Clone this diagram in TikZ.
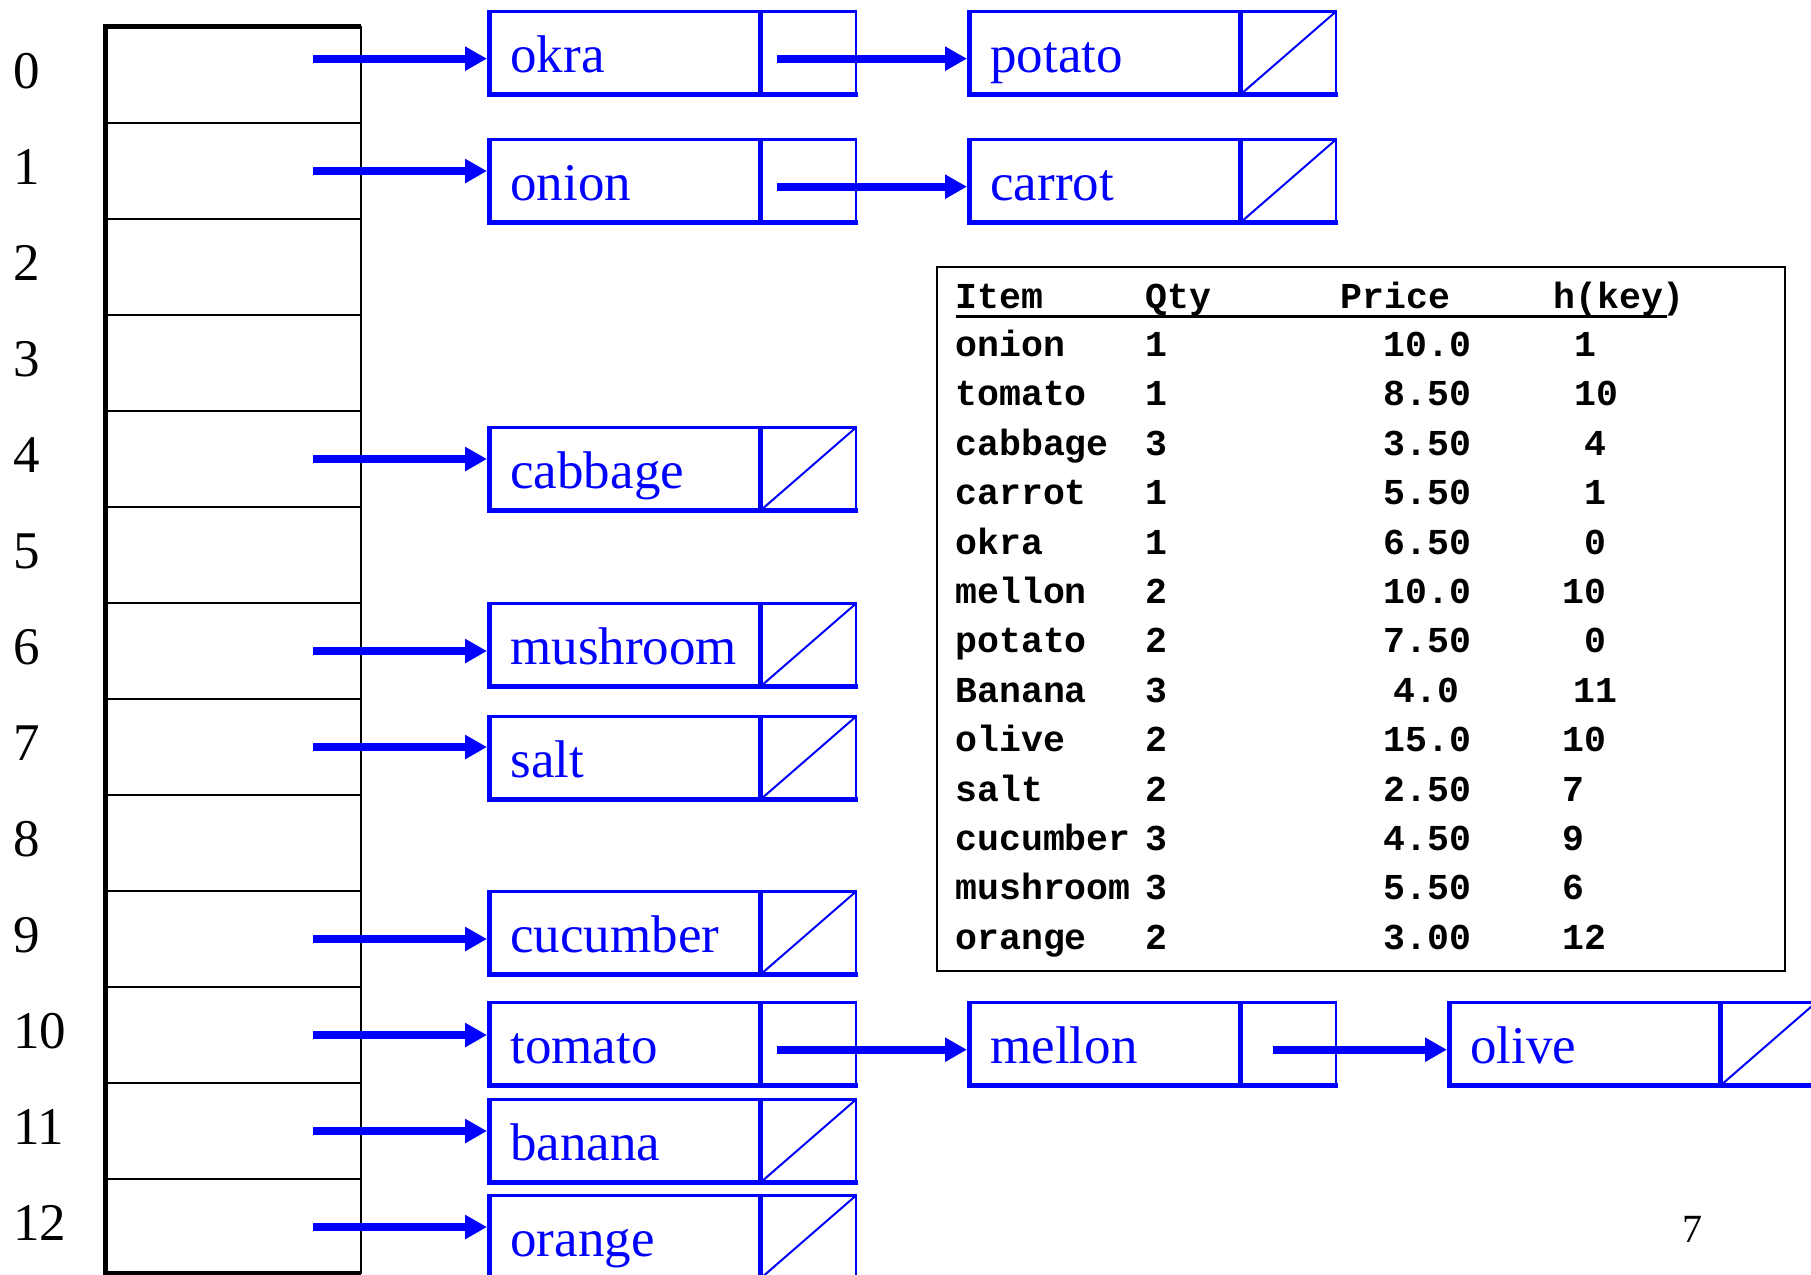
\documentclass[tikz,border=0pt]{standalone}
\usepackage{fontspec}
\setmainfont{Liberation Serif}
\setmonofont{Liberation Mono}
\usetikzlibrary{arrows.meta}
\definecolor{linkblue}{RGB}{0,0,255}

\tikzset{
  cellbox/.style={rectangle, draw=none, inner sep=0pt, outer sep=0pt,
    minimum width=185pt, minimum height=43pt, anchor=north west},
  celltext/.style={anchor=base west, inner sep=0pt, text=linkblue,
    font=\fontsize{26.5}{30}\selectfont},
  cellthin/.style={draw=linkblue, line width=1.25pt},
  cellthick/.style={draw=linkblue, line width=2.5pt},
  nullslash/.style={draw=linkblue, line width=1pt},
  link/.style={draw=linkblue, line width=3.85pt,
    -{Triangle[length=11pt,width=11.5pt]}},
  idx/.style={anchor=base west, inner sep=0pt,
    font=\fontsize{26.5}{30}\selectfont},
  tab/.style={anchor=base west, inner sep=0pt,
    font=\fontsize{18.25}{21}\selectfont\ttfamily\bfseries},
}

% list cell: [pointer start offset] name, left, top, key, null pointer (1) or not (0)
\newcommand\listcell[6][290]{%
  \begin{scope}[shift={(#3,#4)}]
    \node[cellbox] (#2) at (0,0) {};
    \node[celltext] (#2-key) at (23,62) {#5};
    \draw[cellthin] (2.5,1.5) rectangle (369,84.5);
    \draw[cellthick] (2.5,0) -- (2.5,87)
                     (0,84.5) -- (371,84.5)
                     (273.5,0) -- (273.5,87);
    \coordinate (#2-ptr) at (#1,48.7);
    \ifnum#6=1 \draw[nullslash] (273.5,84.5) -- (369,1.5);\fi
  \end{scope}}

\begin{document}
\begin{tikzpicture}[x=0.5pt, y=-0.5pt]
  \useasboundingbox (0,0) rectangle (1811,1275);
  \clip (0,0) rectangle (1811,1275);

  % hash table slots
  \draw[line width=0.75pt] (105,26.5) rectangle (361,1273);
  \foreach \k in {1,...,12}
    \draw[line width=1pt] (105,{27+96*\k}) -- (361,{27+96*\k});
  \draw[line width=2.5pt] (103,26.5) -- (361,26.5)
                          (105,24) -- (105,1275)
                          (103,1273) -- (361,1273);
  \foreach \i in {0,...,12}
    \node[idx] (idx\i) at (13,{88+96*\i}) {\i};

  % slot pointer origins
  \coordinate (h0) at (313,58.7);
  \foreach \i in {1,4,6,7,9,10,11,12}
    \coordinate (h\i) at (313,{75+96*\i});

  % chains
  \listcell{okra}{487}{10}{okra}{0}
  \listcell{potato}{967}{10}{potato}{1}
  \listcell{onion}{487}{138}{onion}{0}
  \listcell{carrot}{967}{138}{carrot}{1}
  \listcell{cabbage}{487}{426}{cabbage}{1}
  \listcell{mushroom}{487}{602}{mushroom}{1}
  \listcell{salt}{487}{715}{salt}{1}
  \listcell{cucumber}{487}{890}{cucumber}{1}
  \listcell{tomato}{487}{1001}{tomato}{0}
  \listcell[305.5]{mellon}{967}{1001}{mellon}{0}
  \listcell{olive}{1447}{1001}{olive}{1}
  \listcell{banana}{487}{1098}{banana}{1}
  \listcell{orange}{487}{1194}{orange}{1}

  \draw[link] (h0) -- (h0 -| okra.west);
  \draw[link] (h1) -- (h1 -| onion.west);
  \draw[link] (h4) -- (h4 -| cabbage.west);
  \draw[link] (h6) -- (h6 -| mushroom.west);
  \draw[link] (h7) -- (h7 -| salt.west);
  \draw[link] (h9) -- (h9 -| cucumber.west);
  \draw[link] (h10) -- (h10 -| tomato.west);
  \draw[link] (h11) -- (h11 -| banana.west);
  \draw[link] (h12) -- (h12 -| orange.west);

  \draw[link] (okra-ptr) -- (okra-ptr -| potato.west);
  \draw[link] (onion-ptr) -- (onion-ptr -| carrot.west);
  \draw[link] (tomato-ptr) -- (tomato-ptr -| mellon.west);
  \draw[link] (mellon-ptr) -- (mellon-ptr -| olive.west);

  % item table
  \draw[line width=1.25pt] (937,267) rectangle (1785,971);
  \node[tab] (hdItem) at (955,308) {Item};
  \node[tab] (hdQty) at (1145,308) {Qty};
  \node[tab] (hdPrice) at (1340,308) {Price};
  \node[tab] (hdKey) at (1553,308) {h(key)};
  \draw[line width=1.65pt] (956,316.5) -- (1667,316.5);
  \foreach \name/\qty/\price/\px/\hk/\hx [count=\k from 0] in {
      onion/1/10.0/1383/1/1574,
      tomato/1/8.50/1383/10/1574,
      cabbage/3/3.50/1383/4/1584,
      carrot/1/5.50/1383/1/1584,
      okra/1/6.50/1383/0/1584,
      mellon/2/10.0/1383/10/1562,
      potato/2/7.50/1383/0/1584,
      Banana/3/4.0/1393/11/1573,
      olive/2/15.0/1383/10/1562,
      salt/2/2.50/1383/7/1562,
      cucumber/3/4.50/1383/9/1562,
      mushroom/3/5.50/1383/6/1562,
      orange/2/3.00/1383/12/1562} {
    \node[tab] (item\k) at (955,{356.5+49.4*\k}) {\name};
    \node[tab] (qty\k) at (1145,{356.5+49.4*\k}) {\qty};
    \node[tab] (price\k) at (\px,{356.5+49.4*\k}) {\price};
    \node[tab] (key\k) at (\hx,{356.5+49.4*\k}) {\hk};
  }

  % page number
  \node[anchor=base west, inner sep=0pt, font=\fontsize{20}{24}\selectfont]
    (pageno) at (1682,1242) {7};
\end{tikzpicture}
\end{document}
